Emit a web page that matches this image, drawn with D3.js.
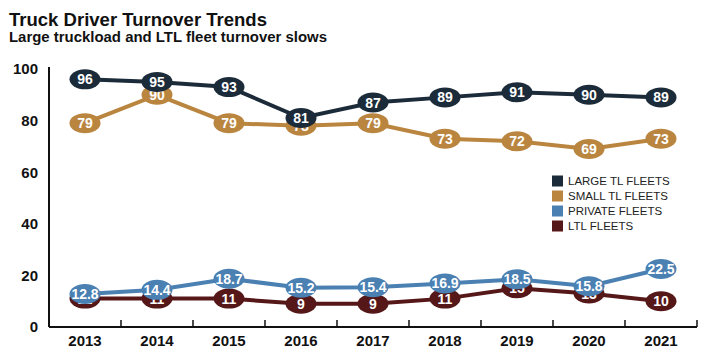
<!DOCTYPE html>
<html>
<head>
<meta charset="utf-8">
<script src="https://cdn.jsdelivr.net/npm/d3@7"></script>
<style>
  html, body { margin: 0; padding: 0; background: #fff; }
  svg { display: block; font-family: "Liberation Sans", Arial, sans-serif; }
</style>
</head>
<body>
<svg id="chart" width="720" height="360"></svg>
<script>
const years = ["2013","2014","2015","2016","2017","2018","2019","2020","2021"];
const largeTL = [96, 95, 93, 81, 87, 89, 91, 90, 89];
const smallTL = [79, 90, 79, 78, 79, 73, 72, 69, 73];
const privateFleets = [12.8, 14.4, 18.7, 15.2, 15.4, 16.9, 18.5, 15.8, 22.5];
const ltlFleets = [11, 11, 11, 9, 9, 11, 15, 13, 10];
const yTicks = [0, 20, 40, 60, 80, 100];
const seriesNames = ["LARGE TL FLEETS", "SMALL TL FLEETS", "PRIVATE FLEETS", "LTL FLEETS"];
const seriesColors = ["#1c2b39", "#b9853f", "#4a80b2", "#561718"];

const svg = d3.select("#chart");

svg.append("text").attr("x", 9).attr("y", 26)
  .attr("font-size", 18).attr("font-weight", "bold").attr("fill", "#111")
  .attr("textLength", 258).attr("lengthAdjust", "spacingAndGlyphs")
  .text("Truck Driver Turnover Trends");
svg.append("text").attr("x", 9).attr("y", 42)
  .attr("font-size", 14).attr("font-weight", "bold").attr("fill", "#111")
  .attr("textLength", 318).attr("lengthAdjust", "spacingAndGlyphs")
  .text("Large truckload and LTL fleet turnover slows");

const x = d3.scaleBand().domain(years).range([49, 697]);
const y = d3.scaleLinear().domain([0, 100]).range([327, 69]);

// Y axis: line + labels
const yAxis = svg.append("g").attr("transform", "translate(49,0)")
  .call(d3.axisLeft(y).tickValues(yTicks).tickSize(0).tickPadding(11));
yAxis.select(".domain").attr("stroke", "#111").attr("stroke-width", 2)
  .attr("d", `M0,${y(0)}V${y(100) - 2}`);
yAxis.selectAll("text").attr("font-size", 15).attr("font-weight", "bold")
  .attr("fill", "#111").attr("font-family", "Liberation Sans, Arial, sans-serif");

// X axis: line + labels, tick marks at band boundaries
const xAxis = svg.append("g").attr("transform", `translate(0,${y(0)})`)
  .call(d3.axisBottom(x).tickSize(0).tickPadding(8));
xAxis.select(".domain").attr("stroke", "#111").attr("stroke-width", 2)
  .attr("d", `M49,0H${x.range()[1]}`);
xAxis.selectAll("text").attr("font-size", 15).attr("font-weight", "bold")
  .attr("fill", "#111").attr("font-family", "Liberation Sans, Arial, sans-serif");
xAxis.selectAll(".bnd").data(years.slice(1).concat(["end"])).enter().append("line")
  .attr("class", "bnd")
  .attr("x1", (d, i) => i < years.length - 1 ? x(d) : x.range()[1])
  .attr("x2", (d, i) => i < years.length - 1 ? x(d) : x.range()[1])
  .attr("y1", 0).attr("y2", -7)
  .attr("stroke", "#111").attr("stroke-width", 1.5);

// Series (draw order: bottom to top)
const allSeries = [largeTL, smallTL, privateFleets, ltlFleets];
const drawOrder = [3, 2, 1, 0];
const line = d3.line().x((d, i) => x(years[i]) + x.bandwidth() / 2).y(d => y(d));

drawOrder.forEach(si => {
  const vals = allSeries[si];
  const g = svg.append("g");
  g.append("path").datum(vals).attr("d", line)
    .attr("fill", "none").attr("stroke", seriesColors[si]).attr("stroke-width", 4);
  const pts = g.selectAll("g.pt").data(vals).enter().append("g")
    .attr("transform", (d, i) => `translate(${x(years[i]) + x.bandwidth() / 2},${y(d)})`);
  pts.append("ellipse").attr("rx", 15.5).attr("ry", 10).attr("fill", seriesColors[si]);
  pts.append("text").attr("text-anchor", "middle").attr("dy", "0.36em")
    .attr("font-size", 14).attr("font-weight", "bold").attr("fill", "#fff")
    .text(d => d);
});

// Legend
const legend = svg.append("g");
seriesNames.forEach((name, i) => {
  const ly = 181 + i * 15;
  legend.append("rect").attr("x", 552).attr("y", ly - 5.5).attr("width", 11).attr("height", 11)
    .attr("fill", seriesColors[i]);
  legend.append("text").attr("x", 568).attr("y", ly).attr("dy", "0.35em")
    .attr("font-size", 11.5).attr("fill", "#222").text(name);
});
</script>
</body>
</html>
